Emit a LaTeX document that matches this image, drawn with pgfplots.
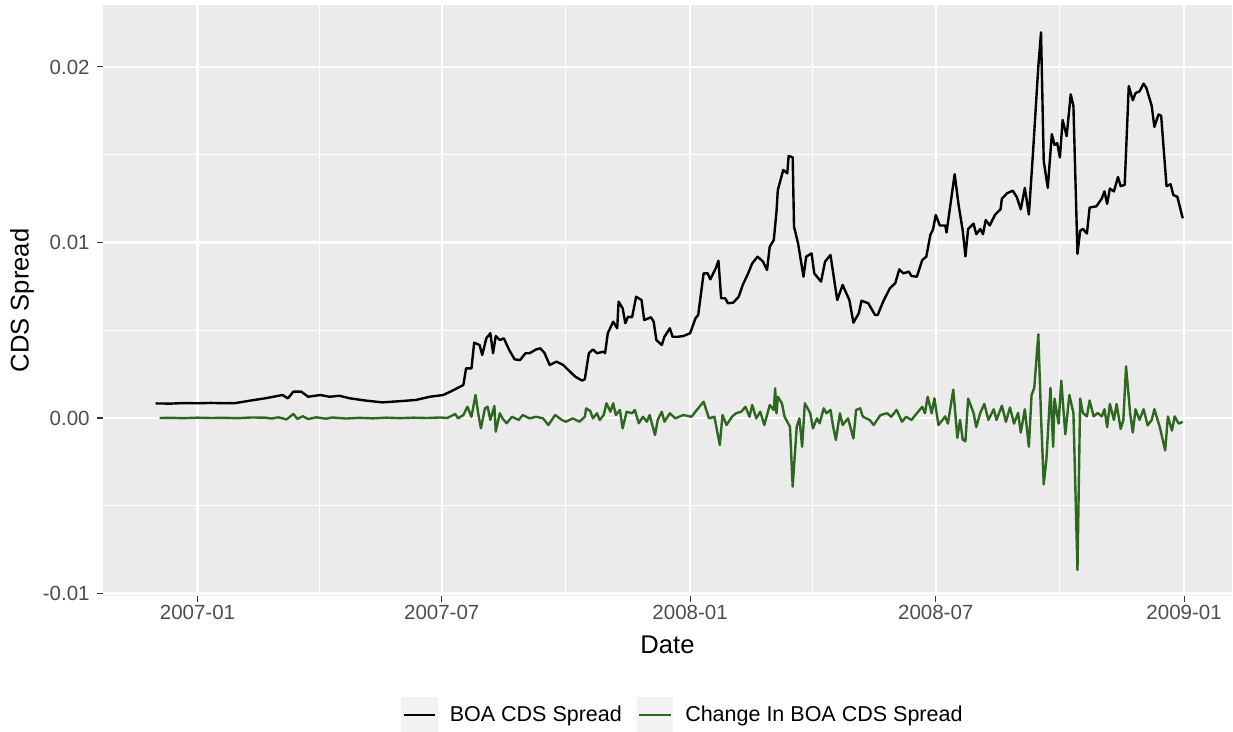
\documentclass[border=0pt]{standalone}
\usepackage{pgfplots}
\pgfplotsset{compat=1.18}
\usepackage{pgfplotstable}
\usepackage{fontspec}
\setmainfont{Liberation Sans}
\definecolor{ggpanel}{HTML}{EBEBEB}
\definecolor{ggkey}{HTML}{F2F2F2}
\definecolor{ggtick}{HTML}{4D4D4D}
\definecolor{ggtickmark}{HTML}{333333}
\definecolor{boagreen}{HTML}{2E6820}

% x = days since 2007-01-01
\pgfplotstableread{
day spread
-31 0.00083
-20 0.00082
-10 0.00085
0 0.00084
10 0.00086
20 0.00084
28 0.00085
39 0.00099
50 0.00112
63 0.00131
67 0.00112
71 0.00150
77 0.00150
82 0.00121
91 0.00131
98 0.00121
105 0.00127
113 0.00112
125 0.00099
137 0.00089
152 0.00097
162 0.00103
172 0.00121
182 0.00131
189 0.00156
197 0.00188
199 0.00283
203 0.00283
205 0.00429
209 0.00416
211 0.00359
214 0.00454
217 0.00483
219 0.00369
221 0.00467
224 0.00444
227 0.00454
231 0.00387
235 0.00334
239 0.00330
243 0.00369
246 0.00369
251 0.00391
254 0.00397
257 0.00372
261 0.00302
266 0.00321
271 0.00302
276 0.00264
280 0.00235
285 0.00213
287 0.00221
290 0.00369
293 0.00391
296 0.00369
301 0.00378
302 0.00369
304 0.00483
308 0.00549
311 0.00511
312 0.00663
315 0.00625
317 0.00540
319 0.00577
322 0.00574
325 0.00691
329 0.00672
331 0.00558
336 0.00574
338 0.00549
340 0.00444
344 0.00416
346 0.00463
350 0.00511
352 0.00463
356 0.00463
360 0.00467
365 0.00483
369 0.00568
371 0.00587
375 0.00824
378 0.00824
380 0.00790
384 0.00853
386 0.00896
388 0.00682
391 0.00682
393 0.00654
397 0.00657
401 0.00691
404 0.00758
408 0.00824
411 0.00881
415 0.00919
419 0.00891
422 0.00843
424 0.00976
427 0.01014
429 0.01175
430 0.01299
434 0.01413
437 0.01394
438 0.01493
441 0.01485
442 0.01090
445 0.00995
449 0.00805
451 0.00919
455 0.00938
457 0.00824
462 0.00777
465 0.00891
469 0.00929
474 0.00672
478 0.00758
483 0.00672
486 0.00543
490 0.00597
492 0.00668
497 0.00654
502 0.00587
504 0.00587
508 0.00663
513 0.00739
517 0.00768
520 0.00847
523 0.00824
527 0.00834
529 0.00809
533 0.00805
537 0.00900
540 0.00919
543 0.01043
545 0.01075
547 0.01157
550 0.01097
554 0.01097
555 0.01057
561 0.01389
564 0.01210
567 0.01067
569 0.00921
571 0.01077
575 0.01108
577 0.01047
580 0.01077
582 0.01047
584 0.01128
587 0.01097
591 0.01159
595 0.01189
596 0.01250
600 0.01281
604 0.01295
607 0.01260
610 0.01189
613 0.01311
616 0.01159
619 0.01505
623 0.02003
625 0.02197
627 0.01464
630 0.01311
633 0.01617
635 0.01556
637 0.01566
639 0.01484
641 0.01698
644 0.01606
647 0.01844
649 0.01779
652 0.00935
654 0.01067
656 0.01077
659 0.01051
661 0.01199
666 0.01206
670 0.01250
672 0.01291
674 0.01220
676 0.01307
679 0.01291
682 0.01373
684 0.01321
687 0.01328
690 0.01891
693 0.01810
695 0.01851
698 0.01861
701 0.01905
703 0.01881
707 0.01779
709 0.01658
712 0.01729
714 0.01722
718 0.01321
721 0.01332
723 0.01271
726 0.01260
730 0.01138
}\spreadtable

\pgfplotstableread{
day change
-28 0.00000
-20 0.00001
-10 -0.00001
0 0.00002
10 0.00000
20 0.00001
30 -0.00001
40 0.00003
50 0.00002
55 -0.00003
60 0.00004
66 -0.00008
71 0.00023
74 -0.00005
78 0.00010
82 -0.00006
88 0.00004
95 -0.00004
100 0.00003
110 -0.00003
120 0.00001
130 -0.00002
140 0.00002
150 -0.00001
160 0.00002
170 0.00000
180 0.00003
185 0.00000
191 0.00023
193 -0.00002
197 0.00017
200 0.00064
203 0.00007
206 0.00131
208 0.00027
210 -0.00059
213 0.00055
215 0.00064
217 -0.00011
220 0.00068
221 -0.00078
224 0.00027
226 -0.00002
229 -0.00030
233 0.00007
238 -0.00011
241 0.00017
246 -0.00002
251 0.00007
256 -0.00002
260 -0.00040
265 0.00017
270 -0.00011
273 -0.00021
278 -0.00002
283 -0.00021
287 0.00007
288 0.00055
291 0.00040
293 -0.00002
296 0.00027
298 -0.00011
301 0.00017
303 0.00084
306 0.00036
308 0.00084
310 0.00017
313 0.00046
315 -0.00059
318 0.00036
322 0.00027
324 0.00046
327 -0.00030
330 0.00007
333 -0.00021
335 0.00017
339 -0.00097
341 -0.00011
344 0.00036
346 -0.00021
350 0.00027
354 -0.00002
360 0.00017
366 0.00007
370 0.00046
375 0.00093
379 -0.00002
383 0.00007
387 -0.00154
389 0.00017
392 -0.00040
396 0.00007
399 0.00027
403 0.00036
406 0.00064
409 0.00007
411 0.00074
414 -0.00002
417 0.00036
420 -0.00040
424 0.00074
427 0.00046
428 0.00169
429 0.00027
430 0.00121
433 0.00084
435 0.00007
439 -0.00050
441 -0.00391
444 -0.00050
446 -0.00002
448 -0.00164
450 0.00084
454 0.00027
456 -0.00059
459 -0.00002
461 -0.00030
464 0.00055
466 0.00027
469 0.00046
471 -0.00050
473 -0.00125
476 0.00027
478 -0.00040
482 -0.00002
486 -0.00116
488 0.00046
491 0.00055
493 0.00007
498 -0.00011
501 -0.00040
506 0.00017
511 0.00027
514 0.00007
518 0.00046
522 -0.00021
525 0.00007
529 -0.00011
533 0.00027
537 0.00064
539 0.00027
541 0.00121
544 0.00027
546 0.00112
549 -0.00040
554 0.00009
556 -0.00032
560 0.00162
563 -0.00113
565 -0.00011
567 -0.00123
569 -0.00133
571 0.00111
575 0.00029
577 -0.00052
580 0.00029
583 0.00080
586 -0.00011
590 0.00050
592 -0.00011
596 0.00070
599 -0.00022
602 0.00060
605 -0.00032
608 0.00029
610 -0.00083
613 0.00050
616 -0.00164
618 0.00131
620 0.00172
623 0.00477
625 0.00009
627 -0.00378
629 -0.00235
632 0.00172
634 -0.00164
635 0.00111
638 -0.00032
640 0.00213
643 -0.00093
646 0.00131
649 0.00029
652 -0.00866
654 0.00111
656 0.00029
659 0.00009
661 0.00100
664 0.00009
667 0.00029
670 0.00009
672 0.00050
674 -0.00052
676 0.00080
679 -0.00011
681 0.00080
684 -0.00062
686 -0.00011
688 0.00294
691 0.00029
693 -0.00083
695 0.00050
698 -0.00011
701 0.00050
704 -0.00042
707 -0.00011
709 0.00050
713 -0.00052
717 -0.00185
719 0.00009
722 -0.00072
724 0.00009
727 -0.00032
730 -0.00022
}\changetable

\begin{document}
\begin{tikzpicture}
\useasboundingbox (-51.5pt,-68pt) rectangle (565pt,298pt);
\begin{axis}[
  at={(0pt,0pt)}, anchor=south west,
  scale only axis,
  width=564.5pt, height=295.5pt,
  xmin=-70, xmax=766.5,
  ymin=-0.01014, ymax=0.02353,
  axis background/.style={fill=ggpanel},
  axis line style={draw=none},
  tick pos=left,
  tick align=outside,
  major tick length=3pt,
  minor tick length=0pt,
  tick style={ggtickmark, line width=0.55pt},
  xtick={0,181,365,547,731},
  xticklabels={2007-01,2007-07,2008-01,2008-07,2009-01},
  minor xtick={90.5,273,456,639},
  ytick={-0.01,0,0.01,0.02},
  yticklabels={-0.01,0.00,0.01,0.02},
  minor ytick={-0.005,0.005,0.015},
  grid=both,
  major grid style={white, line width=1.05pt},
  minor grid style={white, line width=0.55pt},
  /pgf/number format/assume math mode=true,
  ticklabel style={font=\fontsize{10.25}{12}\selectfont, text=ggtick},
  xticklabel style={anchor=north, inner sep=0pt, yshift=-1.5pt},
  yticklabel style={anchor=east, inner sep=0pt, xshift=-3.5pt},
  xlabel={Date},
  ylabel={CDS Spread},
  every axis x label/.style={at={(axis description cs:0.5,0)}, anchor=center, yshift=-24.5pt, font=\fontsize{12.8}{15}\selectfont},
  every axis y label/.style={at={(axis description cs:-0.07175,0.5)}, anchor=center, rotate=90, font=\fontsize{12.8}{15}\selectfont},
  legend columns=2,
  legend style={draw=none, fill=none, at={(axis description cs:0,0)}, anchor=west, xshift=149pt, yshift=-59.5pt,
    inner sep=0pt, font=\fontsize{10.75}{12.5}\selectfont,
    nodes={inner sep=0pt},
    /tikz/every odd column/.append style={column sep=6pt},
    /tikz/every even column/.append style={column sep=7.5pt}},
  legend image code/.code={
    \fill[ggkey] (0pt,-8.5pt) rectangle (17pt,8.5pt);
    \draw (0.7pt,0pt) -- (16.3pt,0pt);
  },
  clip=true,
]
\addplot[black, line width=1.2pt, line join=round] table[x=day, y=spread] {\spreadtable};
\addlegendentry{BOA CDS Spread}
\addplot[boagreen, line width=1.2pt, line join=round] table[x=day, y=change] {\changetable};
\addlegendentry{Change In BOA CDS Spread}
\end{axis}
\end{tikzpicture}
\end{document}
